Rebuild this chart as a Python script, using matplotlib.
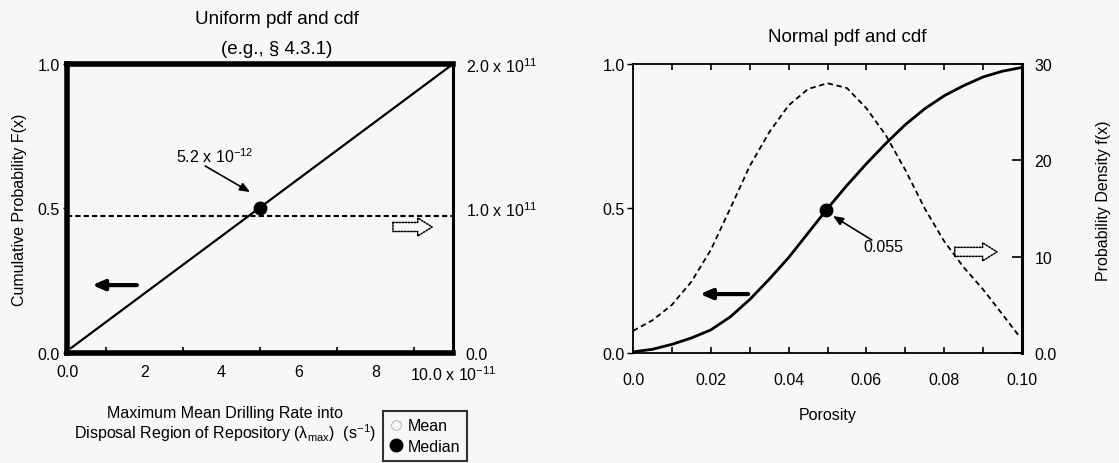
import matplotlib
matplotlib.use('Agg')
import matplotlib.pyplot as plt
from matplotlib.lines import Line2D
from matplotlib.patches import FancyArrowPatch

plt.rcParams['font.family'] = ['Liberation Sans', 'DejaVu Sans']
plt.rcParams['mathtext.fontset'] = 'custom'
plt.rcParams['mathtext.rm'] = 'Liberation Sans'
plt.rcParams['mathtext.it'] = 'Liberation Sans:italic'
plt.rcParams['mathtext.default'] = 'regular'

# --- left panel: uniform distribution (x in units of 1e-11 s^-1) ---
uni_cdf_x = [0.1, 10.0]
uni_cdf_y = [0.017, 1.0]
uni_pdf_x = [0.0, 10.0]
uni_pdf_y = [0.95e11, 0.95e11]
uni_median = (5.0, 0.5)
uni_xticks = [0, 2, 4, 6, 8, 10]
uni_xticklabels = ['0.0', '2', '4', '6', '8', '10.0 x 10$^{-11}$']
uni_rticks = [0, 1e11, 2e11]
uni_rticklabels = ['0.0', '1.0 x 10$^{11}$', '2.0 x 10$^{11}$']

# --- right panel: normal distribution of porosity ---
norm_pdf_x = [0.0, 0.005, 0.01, 0.015, 0.02, 0.025, 0.03, 0.035, 0.04, 0.045, 0.05,
              0.055, 0.06, 0.065, 0.07, 0.075, 0.08, 0.085, 0.09, 0.095, 0.099]
norm_pdf_y = [2.3, 3.4, 5.0, 7.4, 10.7, 15.0, 19.4, 22.9, 25.7, 27.4, 28.0,
              27.5, 25.4, 22.6, 19.0, 15.0, 11.6, 8.9, 6.6, 4.0, 1.9]
norm_cdf_x = [0.0, 0.005, 0.01, 0.015, 0.02, 0.025, 0.03, 0.035, 0.04, 0.045, 0.05,
              0.055, 0.06, 0.065, 0.07, 0.075, 0.08, 0.085, 0.09, 0.095, 0.1]
norm_cdf_y = [0.004, 0.013, 0.03, 0.052, 0.08, 0.125, 0.185, 0.255, 0.33, 0.415, 0.50,
              0.58, 0.655, 0.725, 0.79, 0.845, 0.89, 0.925, 0.955, 0.975, 0.988]
norm_median = (0.0495, 0.495)
norm_xticks = [0.0, 0.02, 0.04, 0.06, 0.08, 0.10]
norm_xticklabels = ['0.0', '0.02', '0.04', '0.06', '0.08', '0.10']
norm_rticks = [0, 10, 20, 30]
norm_rticklabels = ['0.0', '10', '20', '30']

left_yticks = [0.0, 0.5, 1.0]
left_yticklabels = ['0.0', '0.5', '1.0']

FS = 11.5
TFS = 13.5
BG = '#f7f7f7'

fig = plt.figure(figsize=(11.19, 4.64), dpi=100, facecolor=BG)
ax1 = fig.add_axes([0.0599, 0.237, 0.345, 0.623], facecolor=BG)
ax2 = fig.add_axes([0.5657, 0.237, 0.3476, 0.623], facecolor=BG)


def hollow_arrow(ax, x0, x1, y):
    p = FancyArrowPatch((x0, y), (x1, y),
                        arrowstyle='simple,head_width=1.0,head_length=0.8,tail_width=0.5',
                        mutation_scale=13, facecolor='none', edgecolor='k',
                        linestyle=(0, (1, 1)), lw=1.1, zorder=5)
    ax.add_patch(p)


def solid_arrow(ax, x0, x1, y):
    ax.annotate('', xy=(x1, y), xytext=(x0, y),
                arrowprops=dict(arrowstyle='-|>,head_length=0.7,head_width=0.3',
                                lw=3, color='k', shrinkA=0, shrinkB=0))


# ---------- left panel ----------
ax1.set_xlim(0, 10)
ax1.set_ylim(0, 1)
ax1.plot(uni_cdf_x, uni_cdf_y, color='k', lw=1.6)
ax1.plot(*uni_median, 'o', color='k', ms=9, zorder=6)
for s in ['left', 'top', 'bottom']:
    ax1.spines[s].set_linewidth(4)
ax1.spines['right'].set_visible(False)
ax1.set_xticks(uni_xticks)
ax1.set_xticklabels(uni_xticklabels, fontsize=FS)
ax1.set_xticks(range(1, 10), minor=True)
ax1.tick_params(axis='x', which='both', direction='in', length=4, width=1.2, pad=8)
ax1.tick_params(axis='x', which='major', length=0)
ax1.set_yticks(left_yticks)
ax1.set_yticklabels(left_yticklabels, fontsize=FS)
ax1.tick_params(axis='y', direction='out', length=3, width=1, pad=2)
ax1.set_ylabel('Cumulative Probability F(x)', fontsize=FS, labelpad=8)
ax1.set_xlabel('Maximum Mean Drilling Rate into\n'
               'Disposal Region of Repository ($\\lambda_{max}$)  (s$^{-1}$)',
               fontsize=FS, linespacing=1.1)
ax1.xaxis.set_label_coords(0.41, -0.18)

ax1r = ax1.twinx()
ax1r.set_ylim(0, 2e11)
ax1r.plot(uni_pdf_x, uni_pdf_y, color='k', lw=1.5, dashes=(2.5, 1.5))
for s in ['left', 'top', 'bottom']:
    ax1r.spines[s].set_visible(False)
ax1r.spines['right'].set_linestyle((0, (1, 1)))
ax1r.spines['right'].set_linewidth(2.2)
ax1r.set_yticks(uni_rticks)
ax1r.set_yticklabels(uni_rticklabels, fontsize=FS)
ax1r.tick_params(axis='y', length=0, pad=9)
ax1r.yaxis.offsetText.set_visible(False)

ax1.text(3.83, 0.682, '5.2 x 10$^{-12}$', ha='center', va='center', fontsize=FS)
ax1.annotate('', xy=(4.74, 0.557), xytext=(3.58, 0.647),
             arrowprops=dict(arrowstyle='-|>,head_length=0.6,head_width=0.25',
                             lw=1.2, color='k', shrinkA=0, shrinkB=0))
solid_arrow(ax1, 1.81, 0.65, 0.235)
hollow_arrow(ax1, 8.37, 9.53, 0.436)

fig.text(277 / 1119, 1 - 20 / 464, 'Uniform pdf and cdf', ha='center', va='center', fontsize=TFS)
fig.text(277 / 1119, 1 - 50 / 464, '(e.g., \u00a7 4.3.1)', ha='center', va='center', fontsize=TFS)

# ---------- right panel ----------
ax2.set_xlim(0, 0.1)
ax2.set_ylim(0, 1)
ax2.plot(norm_cdf_x, norm_cdf_y, color='k', lw=2)
ax2.plot(*norm_median, 'o', color='k', ms=9, zorder=6)
for s in ['left', 'top', 'bottom']:
    ax2.spines[s].set_linewidth(1.3)
ax2.spines['right'].set_visible(False)
ax2.set_xticks(norm_xticks)
ax2.set_xticklabels(norm_xticklabels, fontsize=FS)
ax2.set_xticks([0.01 * i for i in range(1, 10)], minor=True)
ax2.tick_params(axis='x', which='both', direction='in', top=True, length=4, width=1.2, pad=14)
ax2.set_yticks(left_yticks)
ax2.set_yticklabels(left_yticklabels, fontsize=FS)
ax2.tick_params(axis='y', direction='out', length=4, width=1, pad=2)
ax2.set_xlabel('Porosity', fontsize=FS, labelpad=14)

ax2r = ax2.twinx()
ax2r.set_ylim(0, 30)
ax2r.plot(norm_pdf_x, norm_pdf_y, color='k', lw=1.3, dashes=(3, 2))
for s in ['left', 'top', 'bottom']:
    ax2r.spines[s].set_visible(False)
ax2r.spines['right'].set_linestyle((0, (1, 1)))
ax2r.spines['right'].set_linewidth(2.2)
ax2r.set_yticks(norm_rticks)
ax2r.set_yticklabels(norm_rticklabels, fontsize=FS)
ax2r.tick_params(axis='y', direction='in', length=7, width=1.2, pad=9)
ax2r.set_ylabel('Probability Density f(x)', fontsize=FS)
ax2r.yaxis.set_label_coords(1.19, 0.53)

ax2.text(0.0643, 0.367, '0.055', ha='center', va='center', fontsize=FS)
ax2.annotate('', xy=(0.0514, 0.474), xytext=(0.0614, 0.391),
             arrowprops=dict(arrowstyle='-|>,head_length=0.6,head_width=0.25',
                             lw=1.2, color='k', shrinkA=0, shrinkB=0))
solid_arrow(ax2, 0.0296, 0.0172, 0.204)
hollow_arrow(ax2, 0.082, 0.0943, 0.35)

fig.text(847 / 1119, 1 - 37 / 464, 'Normal pdf and cdf', ha='center', va='center', fontsize=TFS)

# ---------- legend ----------
handles = [Line2D([], [], ls='none', marker='o', ms=7, mfc='none', mec='#aaaaaa', mew=0.6),
           Line2D([], [], ls='none', marker='o', ms=9, color='k')]
leg = fig.legend(handles, ['Mean', 'Median'], loc='lower left',
                 bbox_to_anchor=(383 / 1119, 0.004), fontsize=FS, frameon=True, fancybox=False,
                 handlelength=0.7, handletextpad=0.4, borderpad=0.45, labelspacing=0.35,
                 facecolor=BG, borderaxespad=0)
leg.get_frame().set_edgecolor('k')
leg.get_frame().set_linewidth(1.5)

fig.savefig('out.png', dpi=100, facecolor=BG)
